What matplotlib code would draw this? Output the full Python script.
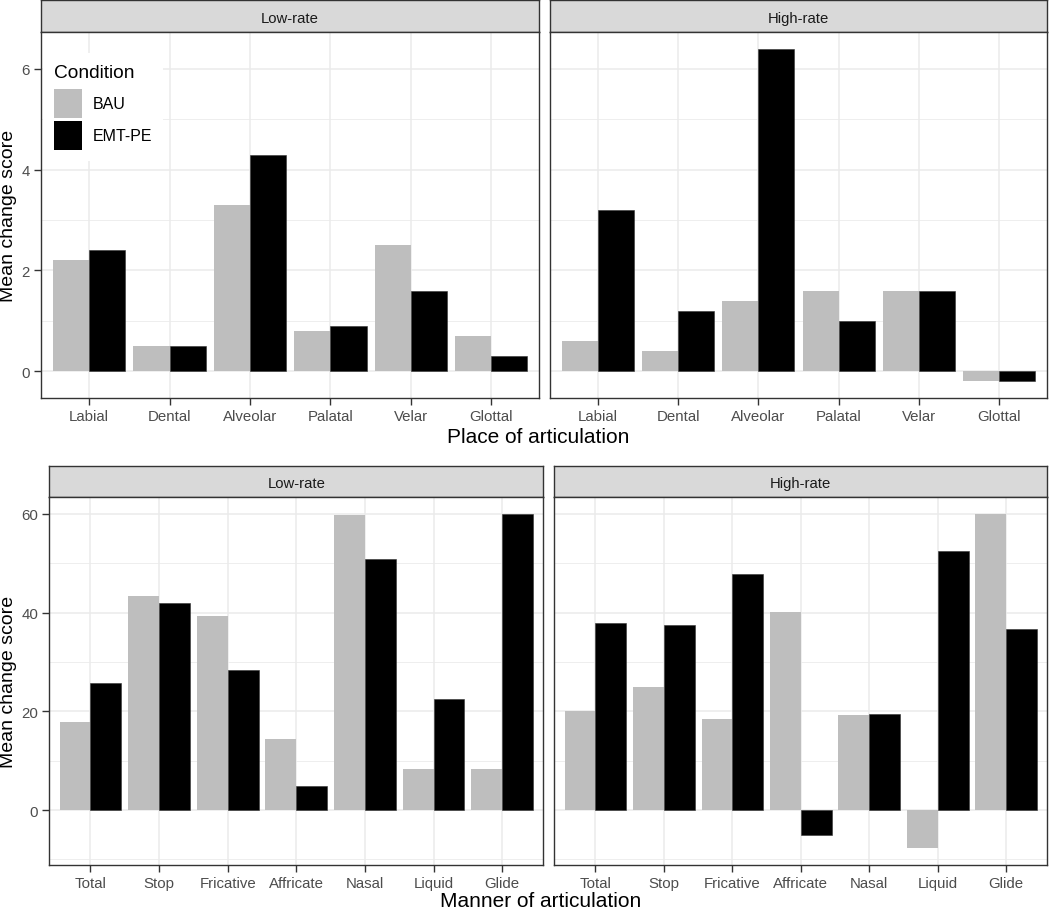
import numpy as np
import matplotlib
matplotlib.use("Agg")
import matplotlib.pyplot as plt
from matplotlib.patches import Patch

plt.rcParams['font.family'] = ['Liberation Sans', 'DejaVu Sans']

# dati
place = ['Labial', 'Dental', 'Alveolar', 'Palatal', 'Velar', 'Glottal']
place_low_bau = [2.2, 0.5, 3.3, 0.8, 2.5, 0.7]
place_low_emt = [2.4, 0.5, 4.3, 0.9, 1.6, 0.3]
place_high_bau = [0.6, 0.4, 1.4, 1.6, 1.6, -0.2]
place_high_emt = [3.2, 1.2, 6.4, 1.0, 1.6, -0.2]

manner = ['Total', 'Stop', 'Fricative', 'Affricate', 'Nasal', 'Liquid', 'Glide']
manner_low_bau = [17.9, 43.3, 39.3, 14.4, 59.7, 8.4, 8.4]
manner_low_emt = [25.7, 42.0, 28.4, 4.9, 50.8, 22.5, 60.0]
manner_high_bau = [20.0, 24.9, 18.4, 40.1, 19.2, -7.7, 60.0]
manner_high_emt = [37.9, 37.4, 47.9, -5.1, 19.5, 52.5, 36.6]

facets = ['Low-rate', 'High-rate']
conditions = ['BAU', 'EMT-PE']
colors = ['#BEBEBE', '#000000']

W, H = 1050, 912
fig = plt.figure(figsize=(W / 100, H / 100), dpi=100)


def px_axes(x0, y0, x1, y1):
    # rettangolo in pixel (origine in alto a sinistra)
    return fig.add_axes([x0 / W, 1 - y1 / H, (x1 - x0) / W, (y1 - y0) / H])


def strip(x0, y0, x1, y1, label):
    s = px_axes(x0, y0, x1, y1)
    s.set_facecolor('#D9D9D9')
    s.set_xticks([])
    s.set_yticks([])
    for sp in s.spines.values():
        sp.set_color('#333333')
        sp.set_linewidth(1.0)
    s.text(0.5, 0.45, label, ha='center', va='center', fontsize=10.7,
           color='#1A1A1A', transform=s.transAxes)


def panel(ax, cats, bau, emt, ylim, major, minor, show_y):
    x = np.arange(1, len(cats) + 1)
    ax.bar(x - 0.225, bau, width=0.45, color=colors[0], zorder=3)
    ax.bar(x + 0.225, emt, width=0.45, color=colors[1], edgecolor='#333333',
           linewidth=0.4, zorder=3)
    ax.set_xlim(0.4, len(cats) + 0.6)
    ax.set_ylim(*ylim)
    ax.set_xticks(x)
    ax.set_xticklabels(cats)
    ax.set_yticks(major)
    ax.set_yticks(minor, minor=True)
    ax.grid(True, which='major', color='#EBEBEB', linewidth=1.1, zorder=0)
    ax.grid(True, which='minor', axis='y', color='#EBEBEB', linewidth=0.6,
            zorder=0)
    ax.set_axisbelow(True)
    ax.tick_params(axis='both', which='major', length=5, width=1.0,
                   color='#333333', labelcolor='#4D4D4D', labelsize=10.8,
                   pad=3)
    ax.tick_params(axis='y', which='minor', length=0)
    if not show_y:
        ax.tick_params(axis='y', which='major', length=0, labelleft=False)
    for sp in ax.spines.values():
        sp.set_color('#333333')
        sp.set_linewidth(1.0)


def limits(*series):
    vals = np.concatenate([np.asarray(s, float) for s in series] + [[0.0]])
    lo, hi = vals.min(), vals.max()
    pad = 0.05 * (hi - lo)
    return lo - pad, hi + pad


# riga superiore: luogo di articolazione
ylim_top = limits(place_low_bau, place_low_emt, place_high_bau, place_high_emt)
top_boxes = [(41, 539.3), (550, 1047)]
top_data = [(place_low_bau, place_low_emt), (place_high_bau, place_high_emt)]
top_axes = []
for i, ((x0, x1), (b, e)) in enumerate(zip(top_boxes, top_data)):
    strip(x0, 1, x1, 33, facets[i])
    ax = px_axes(x0, 33, x1, 399)
    panel(ax, place, b, e, ylim_top, [0, 2, 4, 6], [1, 3, 5], i == 0)
    top_axes.append(ax)

# riga inferiore: modo di articolazione
ylim_bot = limits(manner_low_bau, manner_low_emt, manner_high_bau,
                  manner_high_emt)
bot_boxes = [(49.3, 543.3), (554.3, 1047.3)]
bot_data = [(manner_low_bau, manner_low_emt),
            (manner_high_bau, manner_high_emt)]
for i, ((x0, x1), (b, e)) in enumerate(zip(bot_boxes, bot_data)):
    strip(x0, 467.3, x1, 498.3, facets[i])
    ax = px_axes(x0, 498.3, x1, 865.7)
    panel(ax, manner, b, e, ylim_bot, [0, 20, 40, 60], [-10, 10, 30, 50],
          i == 0)

# titoli degli assi
fig.text(538 / W, 1 - 438 / H, 'Place of articulation', ha='center',
         va='center', fontsize=15)
fig.text(541 / W, 1 - 902 / H, 'Manner of articulation', ha='center',
         va='center', fontsize=15)
fig.text(9 / W, 1 - 216 / H, 'Mean change score', ha='center', va='center',
         rotation=90, fontsize=14)
fig.text(9 / W, 1 - 682 / H, 'Mean change score', ha='center', va='center',
         rotation=90, fontsize=14)

# legenda
handles = [Patch(facecolor=c, edgecolor='none') for c in colors]
leg = top_axes[0].legend(handles, conditions, title='Condition',
                         loc='upper left',
                         bbox_to_anchor=(1.5 / 498.3, 1 - 21 / 366),
                         borderaxespad=0.0,
                         fontsize=11.5, title_fontsize=13.8,
                         handlelength=1.75, handleheight=2.42,
                         labelspacing=0.175, handletextpad=0.69,
                         borderpad=0.7, frameon=True, fancybox=False,
                         alignment='left')
leg._legend_box.sep = 5.6  # spazio tra titolo e chiavi (pt)
leg.get_frame().set_facecolor('white')
leg.get_frame().set_edgecolor('none')
leg.get_frame().set_alpha(1.0)

fig.savefig('out.png', dpi=100)
